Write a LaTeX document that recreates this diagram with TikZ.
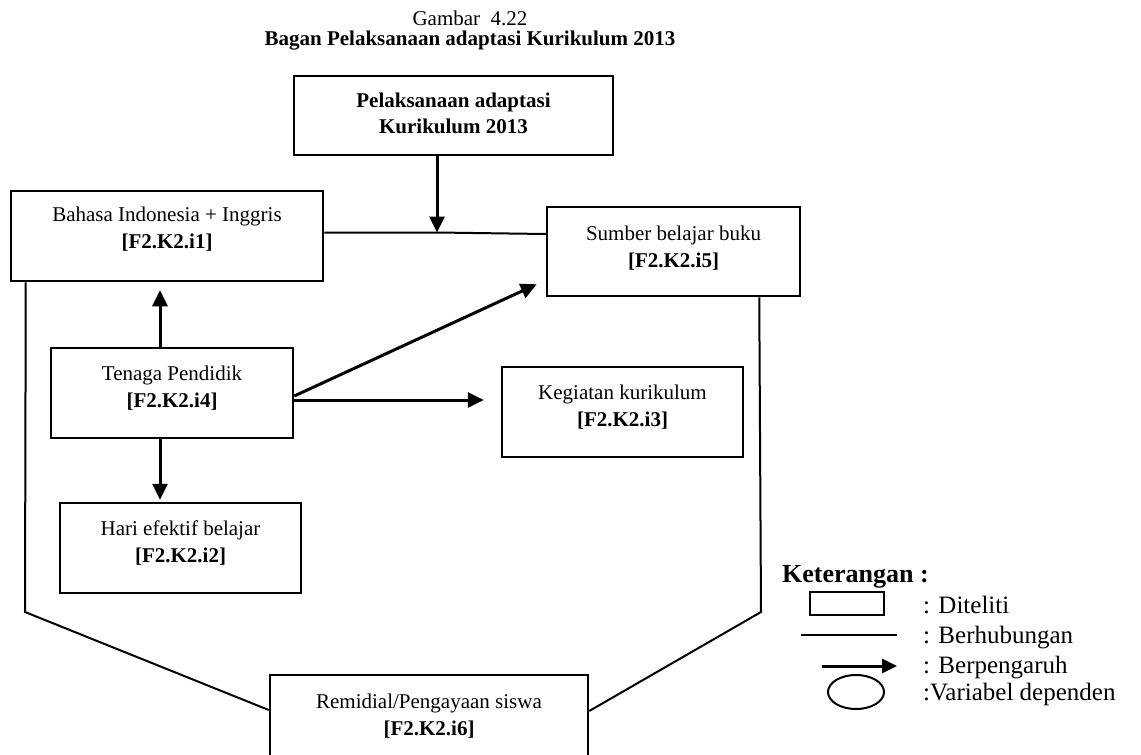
\documentclass[tikz,border=0pt]{standalone}
\usepackage{fontspec}
\setmainfont{Liberation Serif}
\usetikzlibrary{arrows.meta,shapes.geometric}

\begin{document}
\begin{tikzpicture}[x=1pt,y=-1pt,
  box/.style={draw, line width=2.5pt, rectangle, inner sep=0pt},
  boxtext/.style={anchor=north, align=center, inner sep=0pt, font=\fontsize{21}{27}\selectfont},
  link/.style={line width=2pt},
  arr/.style={line width=3pt, -{Triangle[length=16pt,width=15pt]}},
  legtext/.style={anchor=base west, inner sep=0pt, font=\fontsize{25}{30}\selectfont}]

\useasboundingbox (0,0) rectangle (1141,755);

% caption
\node[anchor=base, inner sep=0pt, font=\fontsize{21}{26}\selectfont] (fig) at (470,25) {Gambar~ 4.22};
\node[anchor=base, inner sep=0pt, font=\fontsize{21}{26}\selectfont\bfseries] (title) at (470,45) {Bagan Pelaksanaan adaptasi Kurikulum 2013};

% boxes
\node[box, minimum width=319, minimum height=79] (top) at (453.5,115.5) {};
\node[box, minimum width=312, minimum height=90] (bahasa) at (167,236) {};
\node[box, minimum width=253, minimum height=89] (sumber) at (673.5,251.5) {};
\node[box, minimum width=242, minimum height=90] (tenaga) at (172,393) {};
\node[box, minimum width=241, minimum height=90] (kegiatan) at (622.5,412) {};
\node[box, minimum width=241, minimum height=90] (hari) at (180.5,548) {};
\node[box, minimum width=318, minimum height=90] (remidial) at (429,720) {};

% box labels
\node[boxtext, font={\fontsize{21}{26}\selectfont\bfseries}] (topT) at ([yshift=-18pt]top.north) {Pelaksanaan adaptasi\\Kurikulum 2013};
\node[boxtext] (bahasaT) at ([yshift=-17pt]bahasa.north) {Bahasa Indonesia + Inggris\\\textbf{[F2.K2.i1]}};
\node[boxtext] (sumberT) at ([yshift=-20pt]sumber.north) {Sumber belajar buku\\\textbf{[F2.K2.i5]}};
\node[boxtext] (tenagaT) at ([yshift=-19pt]tenaga.north) {Tenaga Pendidik\\\textbf{[F2.K2.i4]}};
\node[boxtext] (kegiatanT) at ([yshift=-19pt]kegiatan.north) {Kegiatan kurikulum\\\textbf{[F2.K2.i3]}};
\node[boxtext] (hariT) at ([yshift=-19pt]hari.north) {Hari efektif belajar\\\textbf{[F2.K2.i2]}};
\node[boxtext] (remidialT) at ([yshift=-20pt]remidial.north) {Remidial/Pengayaan siswa\\\textbf{[F2.K2.i6]}};

% relation line between the two upper boxes, and the arrow onto it
\coordinate (junction) at (437,232.5);
\coordinate (sjoin) at (sumber.west |- 0,234);
\draw[link] (bahasa.east |- junction) -- (junction) -- (sjoin);
\coordinate (topfoot) at (top.south -| junction);
\draw[arr] (topfoot) -- (junction);

% influences from Tenaga Pendidik
\coordinate (t1) at ([xshift=-12pt]tenaga.north);
\draw[arr, shorten >=8pt] (t1) -- (t1 |- bahasa.south);
\coordinate (t2) at ([xshift=-12pt]tenaga.south);
\draw[arr, shorten >=2pt] (t2) -- (t2 |- hari.north);
\coordinate (t3) at ([yshift=-7pt]tenaga.east);
\draw[arr, shorten >=17pt] (t3) -- (t3 -| kegiatan.west);
\coordinate (t4) at ([yshift=-3pt]tenaga.east);
\draw[arr] (t4) -- ([xshift=-9pt,yshift=13pt]sumber.south west);

% relations down to Remidial/Pengayaan siswa
\coordinate (lbend) at (25,612);
\coordinate (rbend) at (761,612);
\draw[link] ([xshift=16pt]bahasa.south west) -- (lbend) -- ([yshift=10pt]remidial.west);
\draw[link] ([xshift=-42pt]sumber.south east) -- (rbend) -- ([yshift=9pt]remidial.east);

% legend
\node[anchor=base west, inner sep=0pt, font=\fontsize{26}{30}\selectfont\bfseries] (ket) at (782,582) {Keterangan :};
\node[draw, line width=2pt, minimum width=74, minimum height=23, inner sep=0pt] (legbox) at (847,603.5) {};
\node[legtext] (legboxT) at (923,613) {: Diteliti};
\coordinate (lineA) at (801,635);
\coordinate (lineB) at (897,635);
\draw[link] (lineA) -- (lineB);
\node[legtext] (lineT) at (923,643) {: Berhubungan};
\coordinate (arrA) at (822,666);
\coordinate (arrB) at (897,666);
\draw[line width=3pt, -{Triangle[length=15pt,width=14pt]}] (arrA) -- (arrB);
\node[legtext] (arrT) at (923,673) {: Berpengaruh};
\node[ellipse, draw, line width=2pt, minimum width=56, minimum height=34, inner sep=0pt] (legell) at (856,692) {};
\node[legtext] (ellT) at (923,700) {:Variabel dependen};
\end{tikzpicture}
\end{document}
